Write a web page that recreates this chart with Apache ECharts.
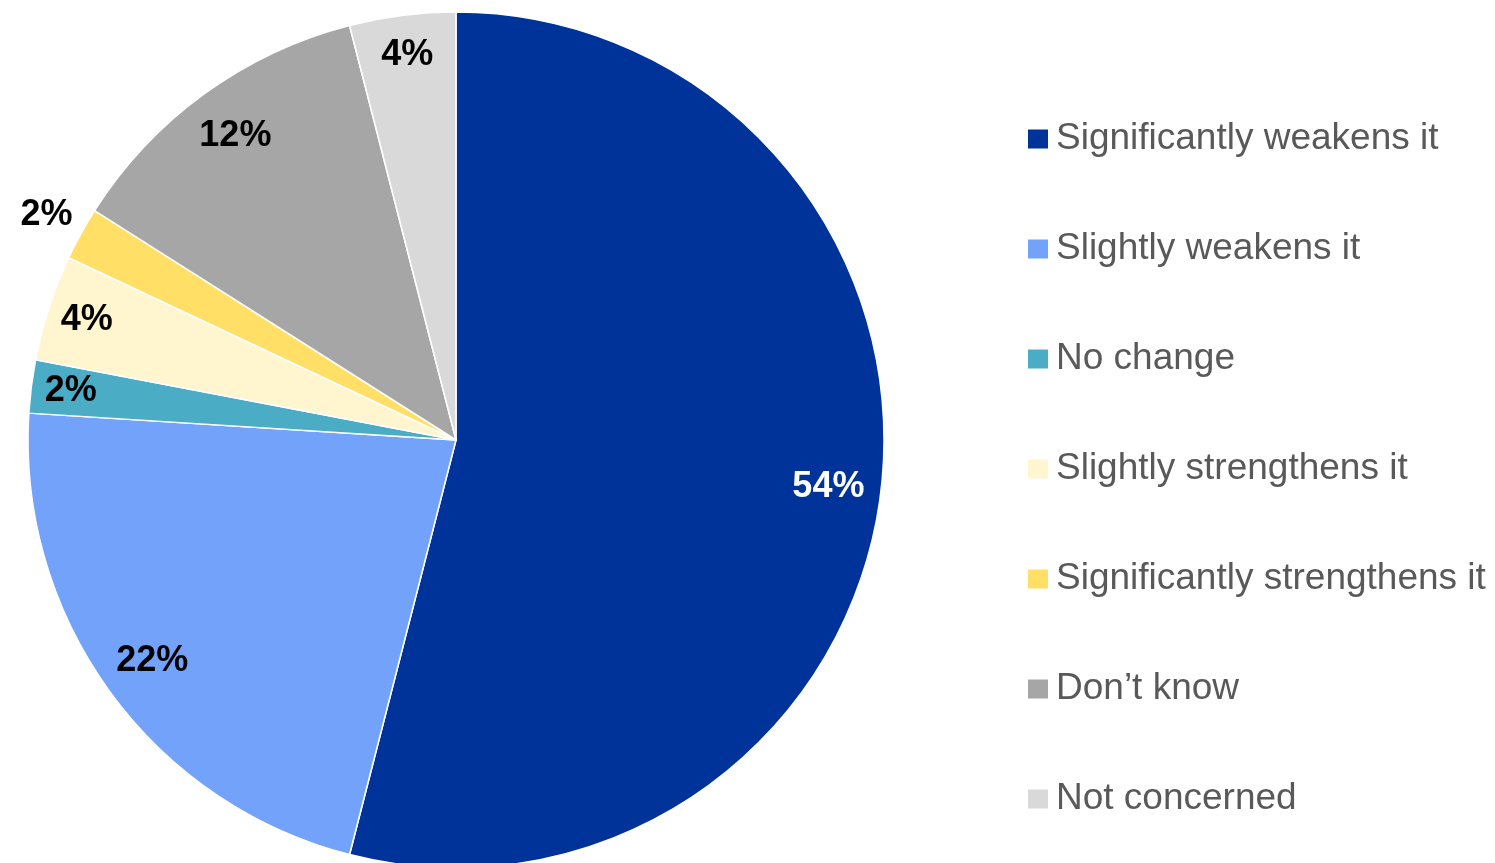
<!DOCTYPE html>
<html>
<head>
<meta charset="utf-8">
<script src="https://cdn.jsdelivr.net/npm/echarts@6/dist/echarts.min.js"></script>
<style>
  html, body { margin: 0; padding: 0; background: #ffffff; }
  #chart { width: 1495px; height: 863px; }
</style>
</head>
<body>
<div id="chart"></div>
<script>
// Survey answers and their shares (%)
const categories = [
  'Significantly weakens it',
  'Slightly weakens it',
  'No change',
  'Slightly strengthens it',
  'Significantly strengthens it',
  'Don\u2019t know',
  'Not concerned'
];
const shares = [54, 22, 2, 4, 2, 12, 4];
const colors = ['#003399', '#73A2FB', '#4BACC6', '#FFF5CE', '#FFDF66', '#A6A6A6', '#D9D9D9'];
const labelColors = ['#ffffff', '#000000', '#000000', '#000000', '#000000', '#000000', '#000000'];
// Slices whose percentage sits just outside the rim
const outsideLabels = ['Significantly strengthens it'];

const center = [456, 440];
const R = 428;
const FONT = 'Liberation Sans, Arial, Helvetica, sans-serif';

const baseData = categories.map((name, i) => ({
  name, value: shares[i], itemStyle: { color: colors[i] }
}));

const labelStyle = {
  position: 'inside',
  formatter: p => p.value + '%',
  fontFamily: FONT,
  fontSize: 36,
  fontWeight: 'bold'
};

// A transparent ring that only carries the labels of the chosen slices;
// 'inside' labels sit at the ring's mid radius.
function labelRing(radius, pick) {
  return {
    type: 'pie',
    center: center,
    radius: radius,
    startAngle: 90,
    clockwise: true,
    silent: true,
    legendHoverLink: false,
    label: labelStyle,
    labelLine: { show: false },
    data: categories.map((name, i) => ({
      name, value: shares[i],
      itemStyle: { color: 'rgba(0,0,0,0)' },
      label: { show: pick(name, shares[i]), color: labelColors[i] }
    }))
  };
}

const isOutside = name => outsideLabels.includes(name);

const chart = echarts.init(document.getElementById('chart'), null, { renderer: 'canvas' });
chart.setOption({
  backgroundColor: '#ffffff',
  animation: false,
  legend: {
    orient: 'vertical',
    left: 1026,
    top: 119,
    padding: 0,
    icon: 'rect',
    itemWidth: 22,
    itemHeight: 21,
    itemGap: 70,
    data: categories,
    selectedMode: false,
    textStyle: {
      fontFamily: FONT,
      fontSize: 37,
      color: '#595959',
      lineHeight: 40,
      padding: [0, 0, 0, 2]
    }
  },
  series: [
    {
      type: 'pie',
      center: center,
      radius: [0, R],
      startAngle: 90,
      clockwise: true,
      silent: true,
      label: { show: false },
      labelLine: { show: false },
      itemStyle: { borderColor: '#ffffff', borderWidth: 1.5 },
      data: baseData
    },
    // large slices
    labelRing([R * 0.74, R], (name, v) => !isOutside(name) && v >= 10),
    // thin slices, nearer the rim
    labelRing([R * 0.8, R], (name, v) => !isOutside(name) && v < 10),
    // beyond the rim
    labelRing([R, R * 1.17], (name) => isOutside(name))
  ]
});
</script>
</body>
</html>
